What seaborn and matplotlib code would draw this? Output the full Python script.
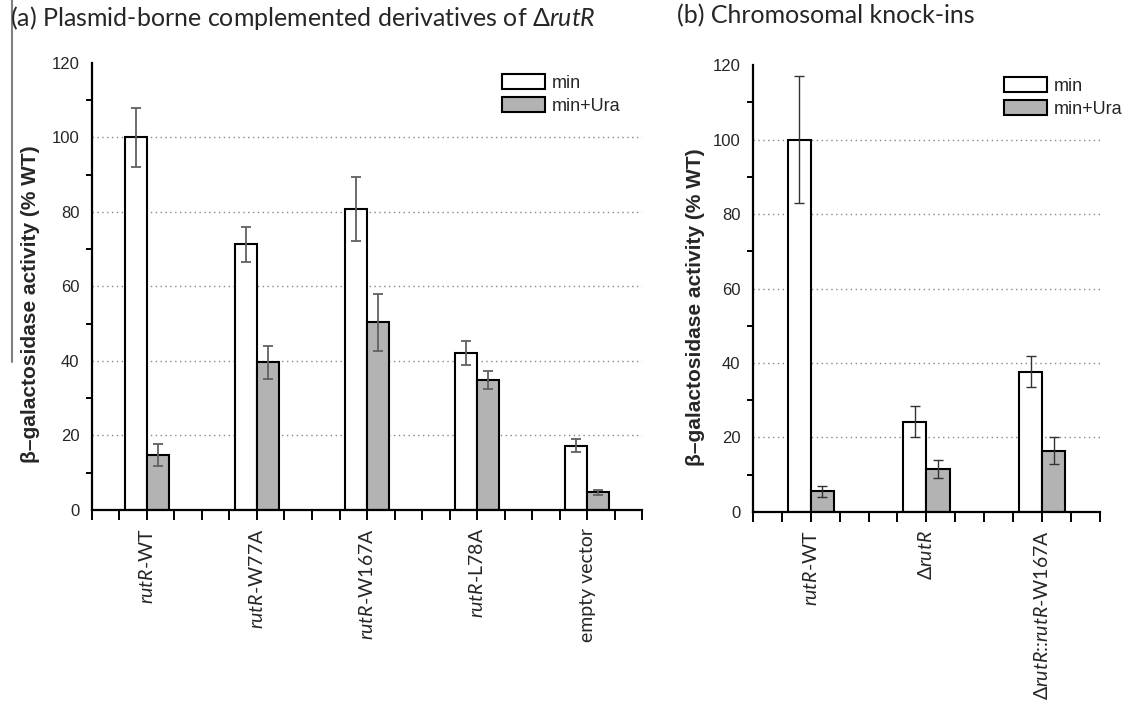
import numpy as np
import pandas as pd
import matplotlib
matplotlib.use("Agg")
import matplotlib.pyplot as plt
import seaborn as sns
from matplotlib.ticker import MultipleLocator
from matplotlib.lines import Line2D

# ---------------- data ----------------
conditions = ["min", "min+Ura"]

a_strains = ["rutR-WT", "rutR-W77A", "rutR-W167A", "rutR-L78A", "empty vector"]
a_labels = [r"$\mathit{rutR}$-WT", r"$\mathit{rutR}$-W77A", r"$\mathit{rutR}$-W167A",
            r"$\mathit{rutR}$-L78A", "empty vector"]
a_min = [100.0, 71.3, 80.8, 42.2, 17.3]
a_min_err = [7.8, 4.7, 8.6, 3.2, 1.8]
a_ura = [14.8, 39.6, 50.4, 34.9, 4.7]
a_ura_err = [2.9, 4.4, 7.7, 2.5, 0.7]

b_strains = ["rutR-WT", "dRutR", "dRutR::rutR-W167A"]
b_labels = [r"$\mathit{rutR}$-WT", r"Δ$\mathit{rutR}$", r"Δ$\mathit{rutR}$::$\mathit{rutR}$-W167A"]
b_min = [100.0, 24.2, 37.7]
b_min_err = [17.0, 4.2, 4.1]
b_ura = [5.6, 11.5, 16.5]
b_ura_err = [1.5, 2.4, 3.7]

title_a = r"(a) Plasmid-borne complemented derivatives of Δ$\mathit{rutR}$"
title_b = "(b) Chromosomal knock-ins"
ylabel = "β–galactosidase activity (% WT)"
y_major = [0, 20, 40, 60, 80, 100, 120]

# ---------------- style ----------------
sns.set_theme(style="white")
plt.rcParams["font.family"] = ["Liberation Sans", "DejaVu Sans"]
plt.rcParams["mathtext.fontset"] = "custom"
plt.rcParams["mathtext.rm"] = "Lato"
plt.rcParams["mathtext.it"] = "Lato:italic"
plt.rcParams["mathtext.bf"] = "Lato:bold"

palette = {"min": "white", "min+Ura": "#b3b3b3"}
hum = ["Lato", "DejaVu Sans"]

fig = plt.figure(figsize=(11.27, 7.2), dpi=100)
ax_a = fig.add_axes([0.0816, 0.2917, 0.5697 - 0.0816, 0.9125 - 0.2917])
ax_b = fig.add_axes([0.668, 0.2889, 0.976 - 0.668, 0.9097 - 0.2889])


def panel(ax, strains, labels, mins, min_err, uras, ura_err, ecolor, elw,
          leg_anchor, ylab_coords):
    df = pd.DataFrame({
        "strain": strains * 2,
        "cond": [conditions[0]] * len(strains) + [conditions[1]] * len(strains),
        "value": mins + uras,
    })
    sns.barplot(data=df, x="strain", y="value", hue="cond", order=strains,
                hue_order=conditions, palette=palette, width=0.4, gap=0,
                edgecolor="black", linewidth=1.5, errorbar=None, ax=ax,
                legend=False)
    bar_containers = list(ax.containers)[:2]
    for cont, errs in zip(bar_containers, [min_err, ura_err]):
        xs = [p.get_x() + p.get_width() / 2 for p in cont.patches]
        hs = [p.get_height() for p in cont.patches]
        ax.errorbar(xs, hs, yerr=errs, fmt="none", ecolor=ecolor,
                    elinewidth=elw, capsize=3.5, capthick=elw, zorder=4)

    ax.set_xlim(-0.5, len(strains) - 0.5)
    ax.set_ylim(0, 120)
    ax.set_yticks(y_major)
    ax.yaxis.set_minor_locator(MultipleLocator(10))
    ax.set_xticks(range(len(strains)))
    ax.xaxis.set_minor_locator(MultipleLocator(0.25))
    ax.set_xticklabels(labels, rotation=90, fontsize=14, family=hum,
                       va="top", ha="center")
    ax.tick_params(axis="y", which="major", direction="out", length=6,
                   width=1.4, color="black", labelsize=12, pad=3)
    ax.tick_params(axis="y", which="minor", direction="out", length=4,
                   width=1.4, color="black", left=True)
    ax.tick_params(axis="x", which="both", direction="out", length=7,
                   width=1.4, color="black", bottom=True, pad=6)
    ax.set_xlabel("")
    ax.set_ylabel(ylabel, fontsize=15, fontweight="bold")
    ax.yaxis.set_label_coords(*ylab_coords)

    ax.yaxis.grid(True, linestyle=(0, (1, 2.5)), color="#888888", linewidth=1)
    ax.xaxis.grid(False)
    ax.set_axisbelow(True)
    gl = ax.get_ygridlines()
    gl[0].set_visible(False)
    gl[-1].set_visible(False)

    for s in ["top", "right"]:
        ax.spines[s].set_visible(False)
    for s in ["left", "bottom"]:
        ax.spines[s].set_color("black")
        ax.spines[s].set_linewidth(1.6)

    ax.legend(bar_containers, conditions, loc="upper left",
              bbox_to_anchor=leg_anchor, frameon=False, fontsize=13,
              handlelength=2.4, handleheight=0.9, handletextpad=0.35,
              labelspacing=0.3, borderpad=0, borderaxespad=0)


panel(ax_a, a_strains, a_labels, a_min, a_min_err, a_ura, a_ura_err,
      "#606060", 1.3, (0.745, 0.975), (-0.094, 0.461))
panel(ax_b, b_strains, b_labels, b_min, b_min_err, b_ura, b_ura_err,
      "#333333", 1.0, (0.723, 0.973), (-0.138, 0.459))

fig.text(0.009, 0.995, title_a, fontsize=18, family=hum, va="top", ha="left")
fig.text(0.601, 0.995, title_b, fontsize=18, family=hum, va="top", ha="left")

# thin grey rule at the left page edge
fig.add_artist(Line2D([0.011, 0.011], [1.0, 1 - 362 / 720],
                      transform=fig.transFigure, color="#808080", linewidth=1.5))

fig.savefig("out.png", dpi=100)
